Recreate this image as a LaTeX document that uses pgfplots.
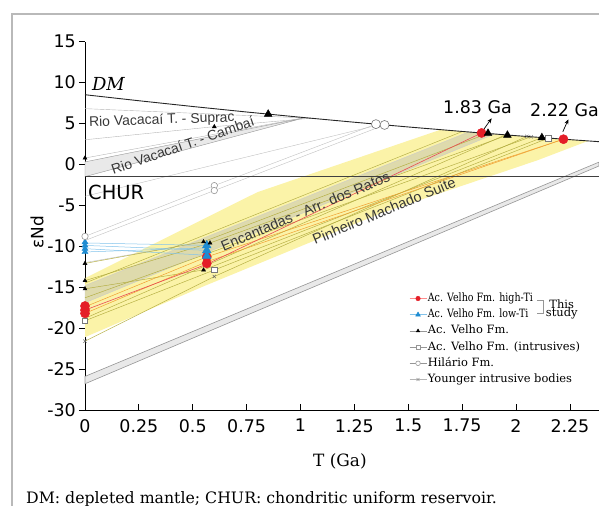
\documentclass[border=0pt]{standalone}
\usepackage{pgfplots}
\pgfplotsset{compat=1.18}
\usepackage{fontspec}
\setmainfont{DejaVu Serif}
\newfontfamily\tickfont{DejaVu Sans}
\newfontfamily\arialfont{Liberation Sans}
\newfontfamily\legcond[FakeStretch=0.83]{DejaVu Serif}
\usetikzlibrary{arrows.meta}
\definecolor{redc}{RGB}{228,30,40}
\definecolor{bluec}{RGB}{30,140,210}
\definecolor{yel}{RGB}{251,243,168}
\definecolor{khaki}{RGB}{222,218,172}
\definecolor{lgray}{RGB}{233,233,233}
\definecolor{mgray}{RGB}{150,150,150}
\definecolor{olivel}{RGB}{178,172,62}
\definecolor{orangel}{RGB}{240,160,50}
\definecolor{bluel}{RGB}{130,195,235}
\definecolor{framec}{RGB}{185,185,185}
\definecolor{txtc}{RGB}{55,55,55}
\begin{document}
\begin{tikzpicture}
\useasboundingbox (0,0) rectangle (599bp,506bp);
\draw[framec, line width=1.5bp] (12bp,-5bp) -- (12bp,492bp) -- (615bp,492bp);
\begin{axis}[
  at={(85bp,96bp)}, anchor=south west,
  scale only axis, width=514bp, height=368.5bp,
  xmin=0, xmax=2.385, ymin=-30, ymax=15,
  axis x line=bottom, axis y line=left,
  axis line style={-, line width=0.9bp, black},
  xtick={0,0.25,0.5,0.75,1,1.25,1.5,1.75,2,2.25},
  ytick={-30,-25,-20,-15,-10,-5,0,5,10,15},
  tick align=outside, major tick length=6bp,
  x tick style={yshift=6bp},
  tick style={black, line width=0.8bp},
  tick label style={font=\tickfont\fontsize{17.5}{20}\selectfont, inner sep=3bp},
  /pgf/number format/assume math mode=true,
  xticklabel style={/pgf/number format/fixed, /pgf/number format/precision=2},
  clip=false,
  legend cell align=left,
  legend style={at={(0.6304,0.3221)}, anchor=north west, draw=none, fill=none,
    inner sep=0pt, row sep=2.2bp, font=\fontsize{11.5}{13}\selectfont,
    nodes={inner sep=1bp, text height=9bp, text depth=3bp}},
]
% ---- legend images
\addlegendimage{color=red!45, line width=0.6bp, mark=*, mark size=2.2bp, mark options={draw=redc, fill=redc}}
\addlegendentry{\legcond Ac. Velho Fm. high-Ti}
\addlegendimage{color=bluel, line width=0.6bp, mark=triangle*, mark size=2.6bp, mark options={draw=bluec, fill=bluec}}
\addlegendentry{\legcond Ac. Velho Fm. low-Ti}
\addlegendimage{color=mgray, line width=0.6bp, mark=triangle*, mark size=1.8bp, mark options={draw=black, fill=black}}
\addlegendentry{Ac. Velho Fm.}
\addlegendimage{color=mgray, line width=0.6bp, mark=square*, mark size=2bp, mark options={draw=mgray, fill=white}}
\addlegendentry{Ac. Velho Fm. (intrusives)}
\addlegendimage{color=mgray, line width=0.6bp, mark=*, mark size=2.3bp, mark options={draw=mgray, fill=white}}
\addlegendentry{Hilário Fm.}
\addlegendimage{color=mgray!70, line width=0.6bp, mark=x, mark size=2bp, mark options={draw=mgray}}
\addlegendentry{Younger intrusive bodies}
% ---- fills
\addplot[fill=yel, draw=none, forget plot] coordinates {(0,-13.9) (0.8,-3.4) (1.65,4.23) (1.75,4.016) (2.0,3.5) (2.25,3.016) (2.335,2.86) (2.1,0.5) (1.37,-6.0) (0.55,-14.9) (0,-21.1)} -- cycle;
\addplot[fill=khaki, draw=mgray!50, line width=0.4bp, forget plot] coordinates {(0,-14.8) (1.78,3.952) (1.9,3.70) (0,-16.9)} -- cycle;
\addplot[fill=lgray, draw=mgray, line width=0.4bp, forget plot] coordinates {(0,0.3) (1.02,5.70) (0,-1.5)} -- cycle;
\addplot[fill=lgray, draw=mgray, line width=0.6bp, forget plot] coordinates {(0,-25.9) (2.385,0.27) (2.385,-0.2) (0,-26.8)} -- cycle;
% ---- gray model lines
\addplot[mgray!70, line width=0.4bp, forget plot] coordinates {(0,6.8) (1.05,5.63)};
\addplot[mgray!70, line width=0.4bp, forget plot] coordinates {(0,3.0) (0.6,4.6) (1.05,5.63)};
\addplot[mgray!70, line width=0.4bp, forget plot] coordinates {(0,0.77) (1.02,5.70)};
\addplot[mgray!60, line width=0.4bp, forget plot] coordinates {(0,-8.8) (0.6,-2.6) (1.35,4.91)};
\addplot[mgray!60, line width=0.4bp, forget plot] coordinates {(0,-9.3) (0.6,-3.2) (1.39,4.81)};
\addplot[mgray!60, line width=0.4bp, forget plot] coordinates {(0,-3.9) (1.37,4.86)};
\addplot[mgray!60, line width=0.4bp, forget plot] coordinates {(0,-12.0) (0.55,-9.45)};
% ---- olive lines
\addplot[olivel, line width=0.45bp, forget plot] coordinates {(0,-12.1) (0.55,-9.45) (1.87,3.79)};
\addplot[olivel, line width=0.45bp, forget plot] coordinates {(0,-14.2) (0.58,-9.6) (1.96,3.56)};
\addplot[olivel, line width=0.45bp, forget plot] coordinates {(0,-15.2) (0.55,-12.9) (2.12,3.26)};
\addplot[olivel, line width=0.45bp, forget plot] coordinates {(0,-16.3) (2.07,3.37)};
\addplot[olivel, line width=0.45bp, forget plot] coordinates {(0,-19.1) (0.6,-12.9) (2.15,3.2)};
\addplot[olivel, line width=0.45bp, forget plot] coordinates {(0,-21.6) (0.6,-13.7) (2.05,3.41)};
\addplot[olivel, line width=0.45bp, forget plot] coordinates {(0,-14.5) (1.75,4.0)};
\addplot[olivel, line width=0.45bp, forget plot] coordinates {(0,-18.8) (1.95,3.58)};
% ---- orange / red / blue lines
\addplot[orangel, line width=0.5bp, forget plot] coordinates {(0,-17.4) (0.565,-11.3) (2.22,3.07)};
\addplot[orangel, line width=0.5bp, forget plot] coordinates {(0,-18.2) (0.565,-11.9) (2.22,3.07)};
\addplot[redc!80, line width=0.6bp, forget plot] coordinates {(0,-17.8) (0.565,-12.2) (1.84,3.83)};
\addplot[bluel, line width=0.5bp, forget plot] coordinates {(0,-9.6) (0.565,-9.9)};
\addplot[bluel, line width=0.5bp, forget plot] coordinates {(0,-9.9) (0.565,-10.5)};
\addplot[bluel, line width=0.5bp, forget plot] coordinates {(0,-10.3) (0.565,-11.1)};
\addplot[bluel, line width=0.5bp, forget plot] coordinates {(0,-10.7) (0.565,-10.2)};
% ---- DM and CHUR
\addplot[black!85, line width=0.9bp, forget plot] coordinates {(0,8.5) (0.25,7.766) (0.5,7.0625) (0.75,6.391) (1.0,5.75) (1.25,5.141) (1.5,4.5625) (1.75,4.016) (2.0,3.5) (2.25,3.016) (2.385,2.767)};
\addplot[black!75, line width=1.0bp, forget plot] coordinates {(0,-1.5) (2.385,-1.5)};
% ---- markers
\addplot[only marks, mark=*, mark size=4.6bp, mark options={draw=redc, fill=redc}, forget plot] coordinates {(0,-17.3) (0,-17.8) (0,-18.2) (0.565,-11.3) (0.565,-12.1) (1.84,3.83) (2.22,3.07)};
\addplot[only marks, mark=triangle*, mark size=5bp, mark options={draw=bluec, fill=bluec}, forget plot] coordinates {(0.565,-9.9) (0.565,-10.5) (0.565,-11.2)};
\addplot[only marks, mark=triangle*, mark size=3.5bp, mark options={draw=bluec, fill=bluec}, forget plot] coordinates {(0,-9.5) (0,-9.9) (0,-10.3) (0,-10.7)};
\addplot[only marks, mark=triangle*, mark size=2.3bp, mark options={draw=black, fill=black}, forget plot] coordinates {(0,0.77) (0,-12.1) (0,-14.2) (0,-15.2) (0.55,-9.45) (0.58,-9.6) (0.55,-12.9) (0.6,4.6)};
\addplot[only marks, mark=triangle*, mark size=4.5bp, mark options={draw=black, fill=black}, forget plot] coordinates {(0.85,6.13) (1.87,3.79) (1.96,3.56) (2.12,3.26)};
\addplot[only marks, mark=square*, mark size=2.7bp, mark options={draw=mgray!80!black, fill=white, line width=0.6bp}, forget plot] coordinates {(0,-19.1) (0.6,-12.9)};
\addplot[only marks, mark=square*, mark size=3.3bp, mark options={draw=mgray!80!black, fill=white, line width=0.6bp}, forget plot] coordinates {(2.15,3.2)};
\addplot[only marks, mark=*, mark size=3.2bp, mark options={draw=mgray, fill=white, line width=0.6bp}, forget plot] coordinates {(0,-8.8) (0.6,-2.6) (0.6,-3.2)};
\addplot[only marks, mark=*, mark size=4.5bp, mark options={draw=mgray!80!black, fill=white, line width=0.6bp}, forget plot] coordinates {(1.35,4.91) (1.39,4.81)};
\addplot[only marks, mark=x, mark size=2.3bp, mark options={draw=black!60, line width=0.5bp}, forget plot] coordinates {(0,-21.6) (0.6,-13.7) (2.05,3.41) (2.07,3.37)};
% ---- annotations
\draw[-{Stealth[length=5bp,width=4bp]}, line width=0.7bp] (axis cs:1.848,4.19) -- (axis cs:1.887,5.62);
\draw[-{Stealth[length=5bp,width=4bp]}, line width=0.7bp] (axis cs:2.217,3.98) -- (axis cs:2.243,5.49);
\node[anchor=base, font=\tickfont\fontsize{17.5}{20}\selectfont, inner sep=0] at (axis cs:1.821,6.26) {1.83 Ga};
\node[anchor=base west, font=\tickfont\fontsize{17.5}{20}\selectfont, inner sep=0] at (axis cs:2.065,5.81) {2.22 Ga};
\node[anchor=base west, font=\itshape\fontsize{18}{20}\selectfont, inner sep=0] at (axis cs:0.032,9.0) {DM};
\node[anchor=base west, font=\tickfont\fontsize{19.5}{22}\selectfont, inner sep=0] at (axis cs:0.014,-4.27) {CHUR};
\node[anchor=base west, rotate=2, text=txtc, font=\arialfont\fontsize{14}{16}\selectfont, inner sep=0] at (axis cs:0.019,4.6) {Rio Vacacaí T. - Suprac};
\node[anchor=base west, rotate=19, text=txtc, font=\arialfont\fontsize{14}{16}\selectfont, inner sep=0] at (axis cs:0.131,-1.25) {Rio Vacacaí T. - Cambaí};
\node[anchor=base west, rotate=23, text=txtc, font=\arialfont\fontsize{14.5}{16}\selectfont, inner sep=0] at (axis cs:0.642,-10.65) {Encantadas - Arr. dos Ratos};
\node[anchor=base west, rotate=22.5, text=txtc, font=\arialfont\fontsize{14.5}{16}\selectfont, inner sep=0] at (axis cs:1.067,-9.85) {Pinheiro Machado Suite};
\node[anchor=base, font=\fontsize{17}{20}\selectfont, inner sep=0] at (axis cs:1.183,-36.9) {T (Ga)};
\node[rotate=90, font=\tickfont\fontsize{17}{20}\selectfont, inner sep=0] at (axis cs:-0.223,-8.27) {εNd};
\draw[mgray, line width=0.6bp] (axis cs:2.097,-16.56) -- (axis cs:2.127,-16.56) -- (axis cs:2.127,-18.2) -- (axis cs:2.097,-18.2);
\node[anchor=base, font=\fontsize{11.5}{13}\selectfont, inner sep=0] at (axis cs:2.212,-17.58) {This};
\node[anchor=base, font=\fontsize{11.5}{13}\selectfont, inner sep=0] at (axis cs:2.212,-18.64) {study};
\end{axis}
\node[anchor=base west, font=\fontsize{15.8}{18}\selectfont, inner sep=0] at (26bp,2.5bp) {DM: depleted mantle; CHUR: chondritic uniform reservoir.};
\end{tikzpicture}
\end{document}
